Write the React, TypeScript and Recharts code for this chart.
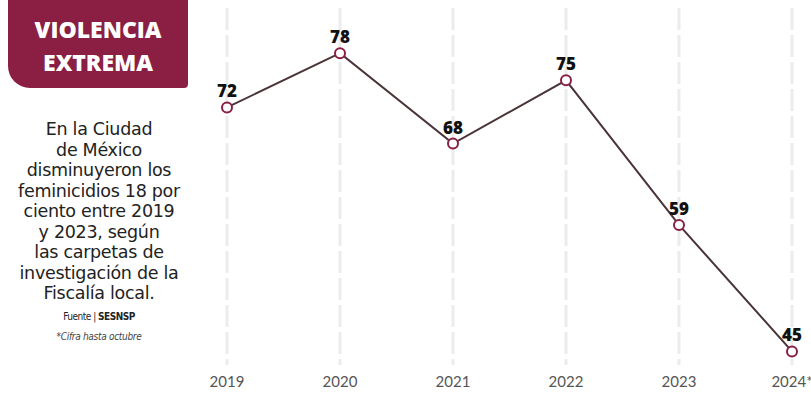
import React from "react";
import { LineChart, Line, XAxis, YAxis, CartesianGrid, LabelList } from "recharts";

const years = ["2019", "2020", "2021", "2022", "2023", "2024*"];
const values = [72, 78, 68, 75, 59, 45];
const titleLines = ["VIOLENCIA", "EXTREMA"];
const bodyLines = [
  "En la Ciudad",
  "de México",
  "disminuyeron los",
  "feminicidios 18 por",
  "ciento entre 2019",
  "y 2023, según",
  "las carpetas de",
  "investigación de la",
  "Fiscalía local.",
];

const data = years.map((y, i) => ({ year: y, value: values[i] }));

const MAROON = "#8a1f43";

export default function App() {
  return (
    <div style={{ position: "absolute", left: 0, top: 0, width: 811, height: 394, background: "#fff", overflow: "hidden" }}>
      <div
        style={{
          position: "absolute",
          left: 8,
          top: 0,
          width: 180,
          height: 88,
          background: MAROON,
          borderBottomLeftRadius: 22,
          borderBottomRightRadius: 4,
          color: "#fff",
          fontFamily: "'Open Sans', sans-serif",
          fontWeight: 800,
          fontSize: 23,
          lineHeight: "33px",
          textAlign: "center",
          paddingTop: 13,
          boxSizing: "border-box",
          letterSpacing: 0,
        }}
      >
        {titleLines.map((t) => (
          <div key={t}>{t}</div>
        ))}
      </div>
      <div
        style={{
          position: "absolute",
          left: 0,
          top: 119,
          width: 198,
          textAlign: "center",
          fontFamily: "'DejaVu Sans', 'Open Sans', sans-serif",
          fontSize: 17.5,
          lineHeight: "20.5px",
          letterSpacing: -0.3,
          color: "#222",
        }}
      >
        {bodyLines.map((t) => (
          <div key={t}>{t}</div>
        ))}
        <div style={{ fontFamily: "'DejaVu Sans Condensed', sans-serif", fontSize: 10, lineHeight: "14px", marginTop: 6, letterSpacing: -0.5 }}>
          Fuente | <b>SESNSP</b>
        </div>
        <div style={{ fontFamily: "'DejaVu Sans Condensed', sans-serif", fontSize: 10, lineHeight: "14px", marginTop: 6, fontStyle: "italic", letterSpacing: -0.3, color: "#444" }}>
          *Cifra hasta octubre
        </div>
      </div>
      <div style={{ position: "absolute", left: 0, top: 0 }}>
        <LineChart width={811} height={394} data={data} margin={{ top: 8, right: 19, bottom: 0, left: 227 }}>
          <CartesianGrid horizontal={false} vertical stroke="#ececec" strokeWidth={3} strokeDasharray="22 5" />
          <XAxis
            dataKey="year"
            axisLine={false}
            tickLine={false}
            tickMargin={5}
            height={29}
            interval={0}
            tick={{ fill: "#555", fontSize: 15, fontFamily: "Lato, sans-serif" }}
          />
          <YAxis hide domain={[43.5, 83]} type="number" />
          <Line
            type="linear"
            dataKey="value"
            stroke="#4a3438"
            strokeWidth={2}
            dot={{ r: 5, fill: "#fff", stroke: MAROON, strokeWidth: 2 }}
            isAnimationActive={false}
          >
            <LabelList
              dataKey="value"
              position="top"
              offset={10}
              style={{ fill: "#111", fontSize: 17, fontWeight: 800, fontFamily: "'Open Sans', sans-serif" }}
            />
          </Line>
        </LineChart>
      </div>
    </div>
  );
}
